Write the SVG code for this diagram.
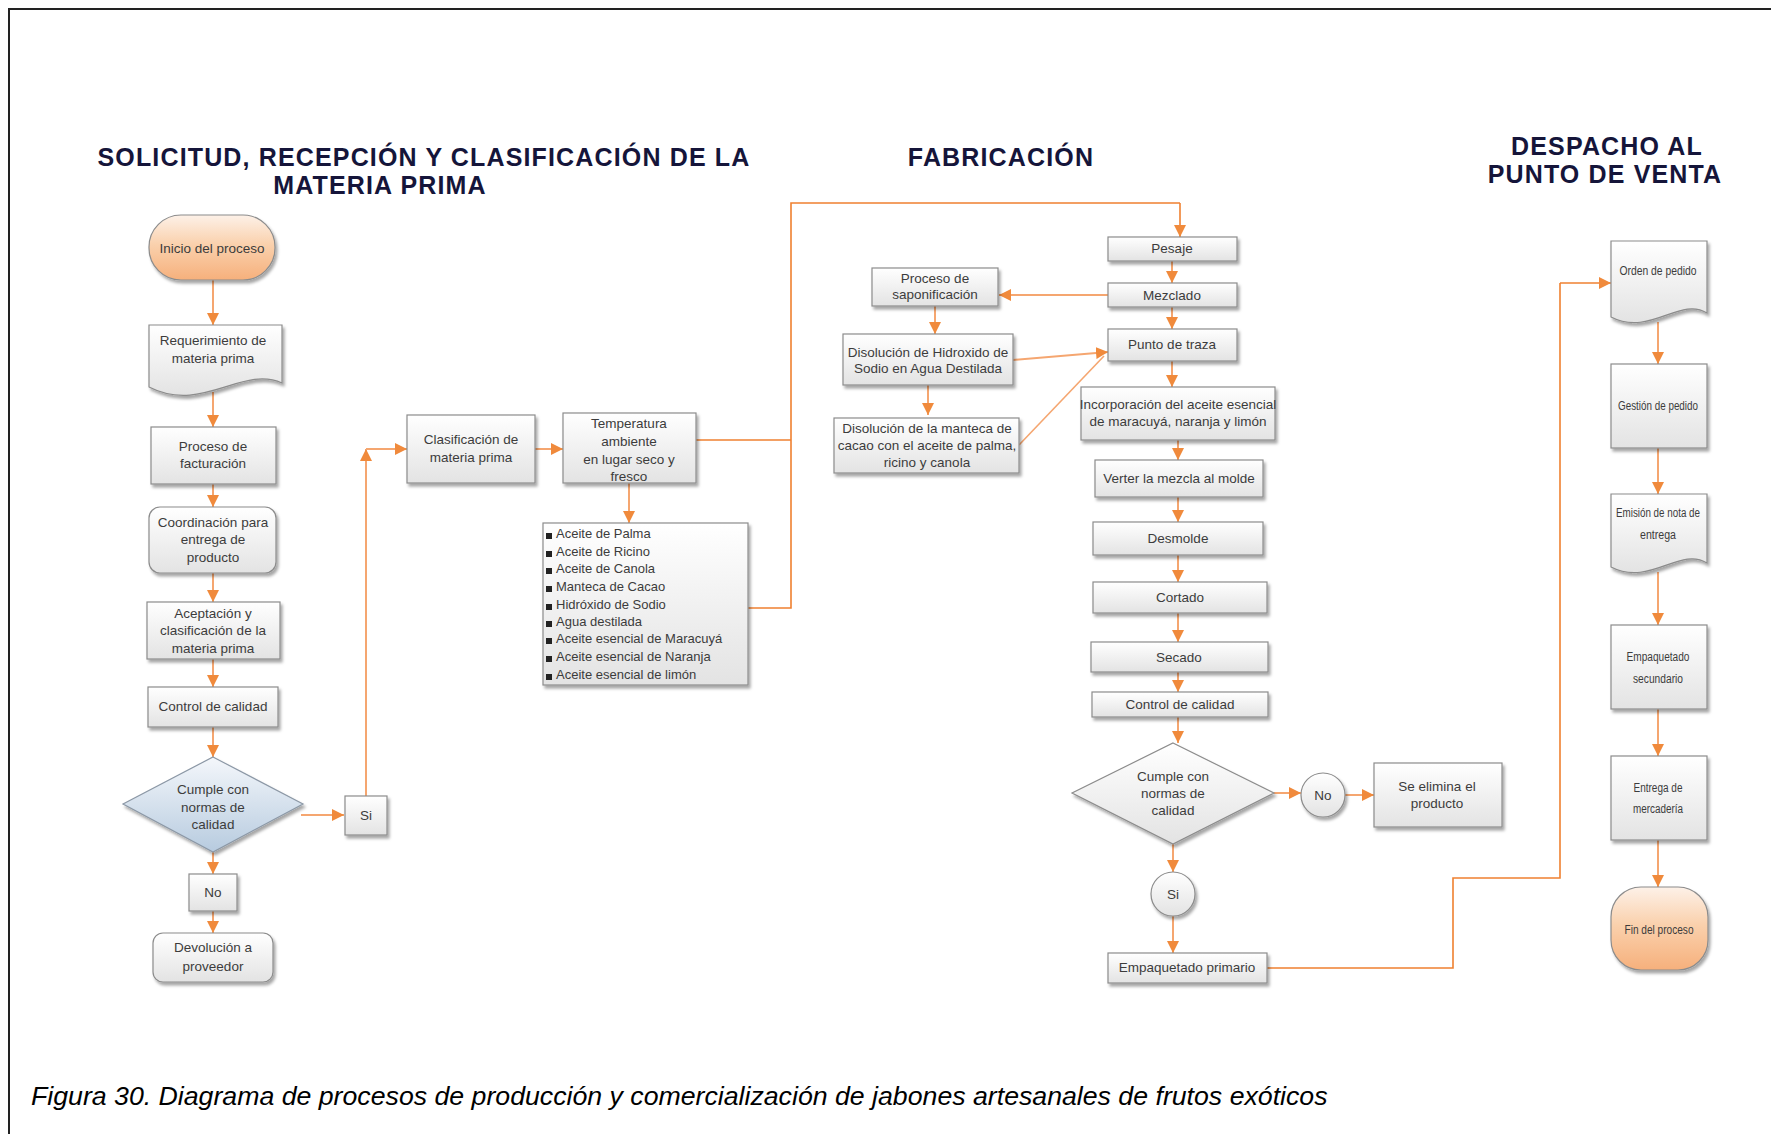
<svg xmlns="http://www.w3.org/2000/svg" width="1771" height="1134" viewBox="0 0 1771 1134">
<defs>
<linearGradient id="gBox" x1="0" y1="0" x2="0" y2="1"><stop offset="0" stop-color="#ffffff"/><stop offset="1" stop-color="#e3e3e3"/></linearGradient>
<linearGradient id="gTerm" x1="0" y1="0" x2="0" y2="1"><stop offset="0" stop-color="#fdf1e8"/><stop offset="0.45" stop-color="#fad1ad"/><stop offset="1" stop-color="#f6b07c"/></linearGradient>
<linearGradient id="gDia" x1="0" y1="0" x2="0" y2="1"><stop offset="0" stop-color="#f4f7fb"/><stop offset="1" stop-color="#b7cbdf"/></linearGradient>
<filter id="sh" x="-20%" y="-20%" width="140%" height="150%"><feDropShadow dx="2" dy="3" stdDeviation="1.4" flood-color="#000" flood-opacity="0.35"/></filter>
<marker id="ah" markerUnits="userSpaceOnUse" markerWidth="12" markerHeight="12" viewBox="0 0 12 12" refX="12" refY="6" orient="auto"><path d="M0,0 L12,6 L0,12 z" fill="#f08a3c"/></marker>
<style>
.box{fill:url(#gBox);stroke:#8c8c8c;stroke-width:1.2;filter:url(#sh)}
.term{fill:url(#gTerm);stroke:#8c8c8c;stroke-width:1.2;filter:url(#sh)}
.dia{fill:url(#gDia);stroke:#8c98a6;stroke-width:1.2;filter:url(#sh)}
.t{font-family:"Liberation Sans",Arial,sans-serif;font-size:13.5px;fill:#3c3c3c;text-anchor:middle}
.tl{font-family:"Liberation Sans",Arial,sans-serif;font-size:13px;fill:#3c3c3c}
.tr{font-family:"Liberation Sans",Arial,sans-serif;font-size:12.5px;fill:#3c3c3c;text-anchor:middle}
.title{font-family:"Liberation Sans",Arial,sans-serif;font-weight:bold;font-size:25px;letter-spacing:1.15px;fill:#15153a;text-anchor:middle}
.cap{font-family:"Liberation Sans",Arial,sans-serif;font-style:italic;font-size:26.7px;fill:#000}
.c{fill:none;stroke:#f5a670;stroke-width:2;marker-end:url(#ah)}
.cn{fill:none;stroke:#f5a670;stroke-width:1.6}
.cl{fill:none;stroke:#ef8030;stroke-width:1.6}
</style>
</defs>
<rect width="1771" height="1134" fill="#ffffff"/>
<path d="M9,1134 V9 H1771" fill="none" stroke="#222" stroke-width="2"/>

<g id="titles">
<text class="title" x="424" y="166">SOLICITUD, RECEPCIÓN Y CLASIFICACIÓN DE LA</text>
<text class="title" x="380" y="194">MATERIA PRIMA</text>
<text class="title" x="1001" y="166">FABRICACIÓN</text>
<text class="title" x="1607" y="155">DESPACHO AL</text>
<text class="title" x="1605" y="183">PUNTO DE VENTA</text>
</g>

<g id="connectors">
<path class="c" d="M213,280 V325"/>
<path class="c" d="M213,392 V427"/>
<path class="c" d="M213,484 V507"/>
<path class="c" d="M213,573 V602"/>
<path class="c" d="M213,659 V687"/>
<path class="c" d="M213,727 V757"/>
<path class="c" d="M301,815 H344"/>
<path class="c" d="M213,852 V874"/>
<path class="c" d="M213,911 V933"/>
<path class="c" d="M366,796 V449"/>
<path class="c" d="M366,449 H407"/>
<path class="c" d="M535,449 H563"/>
<path class="c" d="M629,483 V523"/>
<path class="cl" d="M696,440 H791"/>
<path class="cl" d="M748,608 H791 V203 H1180"/>
<path class="c" d="M1180,203 V237" style="stroke:#ef8030;stroke-width:1.6"/>
<path class="c" d="M1172,261 V283"/>
<path class="c" d="M1108,295 H999"/>
<path class="c" d="M1172,307 V329"/>
<path class="c" d="M935,306 V334"/>
<path class="c" d="M928,385 V415"/>
<path class="c" d="M1013,360 L1108,352"/>
<path class="cn" d="M1019,445 L1104,356"/>
<path class="c" d="M1172,361 V387"/>
<path class="c" d="M1178,440 V460"/>
<path class="c" d="M1178,497 V522"/>
<path class="c" d="M1178,555 V582"/>
<path class="c" d="M1178,613 V642"/>
<path class="c" d="M1178,672 V692"/>
<path class="c" d="M1178,717 V743"/>
<path class="c" d="M1274,793 H1301"/>
<path class="c" d="M1345,795 H1374"/>
<path class="c" d="M1173,844 V872"/>
<path class="c" d="M1173,916 V953"/>
<path class="cl" d="M1267,968 H1453 V878 H1560 V283"/>
<path class="c" d="M1560,283 H1611" style="stroke:#ef8030;stroke-width:1.6"/>
<path class="c" d="M1658,322 V364"/>
<path class="c" d="M1658,448 V494"/>
<path class="c" d="M1658,572 V625"/>
<path class="c" d="M1658,709 V756"/>
<path class="c" d="M1658,840 V887"/>
</g>

<g id="n-inicio"><rect class="term" x="149" y="215" width="126" height="65" rx="32"/><text class="t" x="212" y="253">Inicio del proceso</text></g>
<g id="n-requerimiento"><path class="box" d="M149,325 H282 V383 C242,365 202,414 149,387 Z"/><text class="t" x="213" y="345">Requerimiento de</text><text class="t" x="213" y="363">materia prima</text></g>
<g id="n-facturacion"><rect class="box" x="151" y="427" width="125" height="57"/><text class="t" x="213" y="451">Proceso de</text><text class="t" x="213" y="468">facturación</text></g>
<g id="n-coordinacion"><rect class="box" x="149" y="507" width="127" height="66" rx="11"/><text class="t" x="213" y="527">Coordinación para</text><text class="t" x="213" y="544">entrega de</text><text class="t" x="213" y="562">producto</text></g>
<g id="n-aceptacion"><rect class="box" x="147" y="602" width="133" height="57"/><text class="t" x="213" y="618">Aceptación y</text><text class="t" x="213" y="635">clasificación de la</text><text class="t" x="213" y="653">materia prima</text></g>
<g id="n-control1"><rect class="box" x="148" y="687" width="130" height="40"/><text class="t" x="213" y="711">Control de calidad</text></g>
<g id="n-cumple1"><path class="dia" d="M213,757 L303,804 L213,852 L123,804 Z"/><text class="t" x="213" y="794">Cumple con</text><text class="t" x="213" y="812">normas de</text><text class="t" x="213" y="829">calidad</text></g>
<g id="n-si1"><rect class="box" x="345" y="796" width="42" height="39"/><text class="t" x="366" y="820">Si</text></g>
<g id="n-no1"><rect class="box" x="189" y="874" width="48" height="37"/><text class="t" x="213" y="897">No</text></g>
<g id="n-devolucion"><rect class="box" x="153" y="933" width="120" height="49" rx="10"/><text class="t" x="213" y="952">Devolución a</text><text class="t" x="213" y="971">proveedor</text></g>

<g id="n-clasificacion"><rect class="box" x="407" y="415" width="128" height="68"/><text class="t" x="471" y="444">Clasificación de</text><text class="t" x="471" y="462">materia prima</text></g>
<g id="n-temperatura"><rect class="box" x="563" y="413" width="133" height="70"/><text class="t" x="629" y="428">Temperatura</text><text class="t" x="629" y="446">ambiente</text><text class="t" x="629" y="464">en lugar seco y</text><text class="t" x="629" y="481">fresco</text></g>
<g id="n-materiales"><rect class="box" x="543" y="523" width="205" height="162"/>
<g fill="#222"><rect x="546" y="533" width="6" height="6"/><rect x="546" y="551" width="6" height="6"/><rect x="546" y="568" width="6" height="6"/><rect x="546" y="586" width="6" height="6"/><rect x="546" y="604" width="6" height="6"/><rect x="546" y="621" width="6" height="6"/><rect x="546" y="638" width="6" height="6"/><rect x="546" y="656" width="6" height="6"/><rect x="546" y="674" width="6" height="6"/></g>
<text class="tl" x="556" y="538">Aceite de Palma</text>
<text class="tl" x="556" y="556">Aceite de Ricino</text>
<text class="tl" x="556" y="573">Aceite de Canola</text>
<text class="tl" x="556" y="591">Manteca de Cacao</text>
<text class="tl" x="556" y="609">Hidróxido de Sodio</text>
<text class="tl" x="556" y="626">Agua destilada</text>
<text class="tl" x="556" y="643">Aceite esencial de Maracuyá</text>
<text class="tl" x="556" y="661">Aceite esencial de Naranja</text>
<text class="tl" x="556" y="679">Aceite esencial de limón</text>
</g>

<g id="n-pesaje"><rect class="box" x="1108" y="237" width="129" height="24"/><text class="t" x="1172" y="253">Pesaje</text></g>
<g id="n-mezclado"><rect class="box" x="1108" y="283" width="129" height="24"/><text class="t" x="1172" y="300">Mezclado</text></g>
<g id="n-saponificacion"><rect class="box" x="872" y="268" width="126" height="38"/><text class="t" x="935" y="283">Proceso de</text><text class="t" x="935" y="299">saponificación</text></g>
<g id="n-punto"><rect class="box" x="1108" y="329" width="129" height="32"/><text class="t" x="1172" y="349">Punto de traza</text></g>
<g id="n-hidroxido"><rect class="box" x="843" y="334" width="170" height="51"/><text class="t" x="928" y="357">Disolución de Hidroxido de</text><text class="t" x="928" y="373">Sodio en Agua Destilada</text></g>
<g id="n-manteca"><rect class="box" x="834" y="418" width="185" height="55"/><text class="t" x="927" y="433">Disolución de la manteca de</text><text class="t" x="927" y="450">cacao con el aceite de palma,</text><text class="t" x="927" y="467">ricino y canola</text></g>
<g id="n-incorporacion"><rect class="box" x="1081" y="387" width="194" height="53"/><text class="t" x="1178" y="409" font-size="13">Incorporación del aceite esencial</text><text class="t" x="1178" y="426" font-size="13">de maracuyá, naranja y limón</text></g>
<g id="n-verter"><rect class="box" x="1095" y="460" width="168" height="37"/><text class="t" x="1179" y="483">Verter la mezcla al molde</text></g>
<g id="n-desmolde"><rect class="box" x="1093" y="522" width="170" height="33"/><text class="t" x="1178" y="543">Desmolde</text></g>
<g id="n-cortado"><rect class="box" x="1093" y="582" width="174" height="31"/><text class="t" x="1180" y="602">Cortado</text></g>
<g id="n-secado"><rect class="box" x="1091" y="642" width="177" height="30"/><text class="t" x="1179" y="662">Secado</text></g>
<g id="n-control2"><rect class="box" x="1092" y="692" width="176" height="25"/><text class="t" x="1180" y="709">Control de calidad</text></g>
<g id="n-cumple2"><path class="box" d="M1173,743 L1274,793 L1173,844 L1072,793 Z"/><text class="t" x="1173" y="781">Cumple con</text><text class="t" x="1173" y="798">normas de</text><text class="t" x="1173" y="815">calidad</text></g>
<g id="n-no2"><circle class="box" cx="1323" cy="795" r="22"/><text class="t" x="1323" y="800">No</text></g>
<g id="n-elimina"><rect class="box" x="1374" y="763" width="128" height="64"/><text class="t" x="1437" y="791">Se elimina el</text><text class="t" x="1437" y="808">producto</text></g>
<g id="n-si2"><circle class="box" cx="1173" cy="894" r="22"/><text class="t" x="1173" y="899">Si</text></g>
<g id="n-empaq1"><rect class="box" x="1108" y="953" width="159" height="30"/><text class="t" x="1187" y="972">Empaquetado primario</text></g>

<g id="n-orden"><path class="box" d="M1611,241 H1707 V313 C1680,296 1650,337 1611,317 Z"/><text class="tr" x="1658" y="275" textLength="77" lengthAdjust="spacingAndGlyphs">Orden de pedido</text></g>
<g id="n-gestion"><rect class="box" x="1611" y="364" width="96" height="84"/><text class="tr" x="1658" y="410" textLength="80" lengthAdjust="spacingAndGlyphs">Gestión de pedido</text></g>
<g id="n-emision"><path class="box" d="M1611,494 H1707 V563 C1680,546 1650,587 1611,567 Z"/><text class="tr" x="1658" y="517" textLength="84" lengthAdjust="spacingAndGlyphs">Emisión de nota de</text><text class="tr" x="1658" y="539" textLength="36" lengthAdjust="spacingAndGlyphs">entrega</text></g>
<g id="n-empaq2"><rect class="box" x="1611" y="625" width="96" height="84"/><text class="tr" x="1658" y="661" textLength="63" lengthAdjust="spacingAndGlyphs">Empaquetado</text><text class="tr" x="1658" y="683" textLength="50" lengthAdjust="spacingAndGlyphs">secundario</text></g>
<g id="n-entrega"><rect class="box" x="1611" y="756" width="96" height="84"/><text class="tr" x="1658" y="792" textLength="49" lengthAdjust="spacingAndGlyphs">Entrega de</text><text class="tr" x="1658" y="813" textLength="50" lengthAdjust="spacingAndGlyphs">mercadería</text></g>
<g id="n-fin"><rect class="term" x="1611" y="887" width="97" height="83" rx="30"/><text class="tr" x="1659" y="934" textLength="69" lengthAdjust="spacingAndGlyphs">Fin del proceso</text></g>

<text class="cap" x="31" y="1105">Figura 30. Diagrama de procesos de producción y comercialización de jabones artesanales de frutos exóticos</text>
</svg>
